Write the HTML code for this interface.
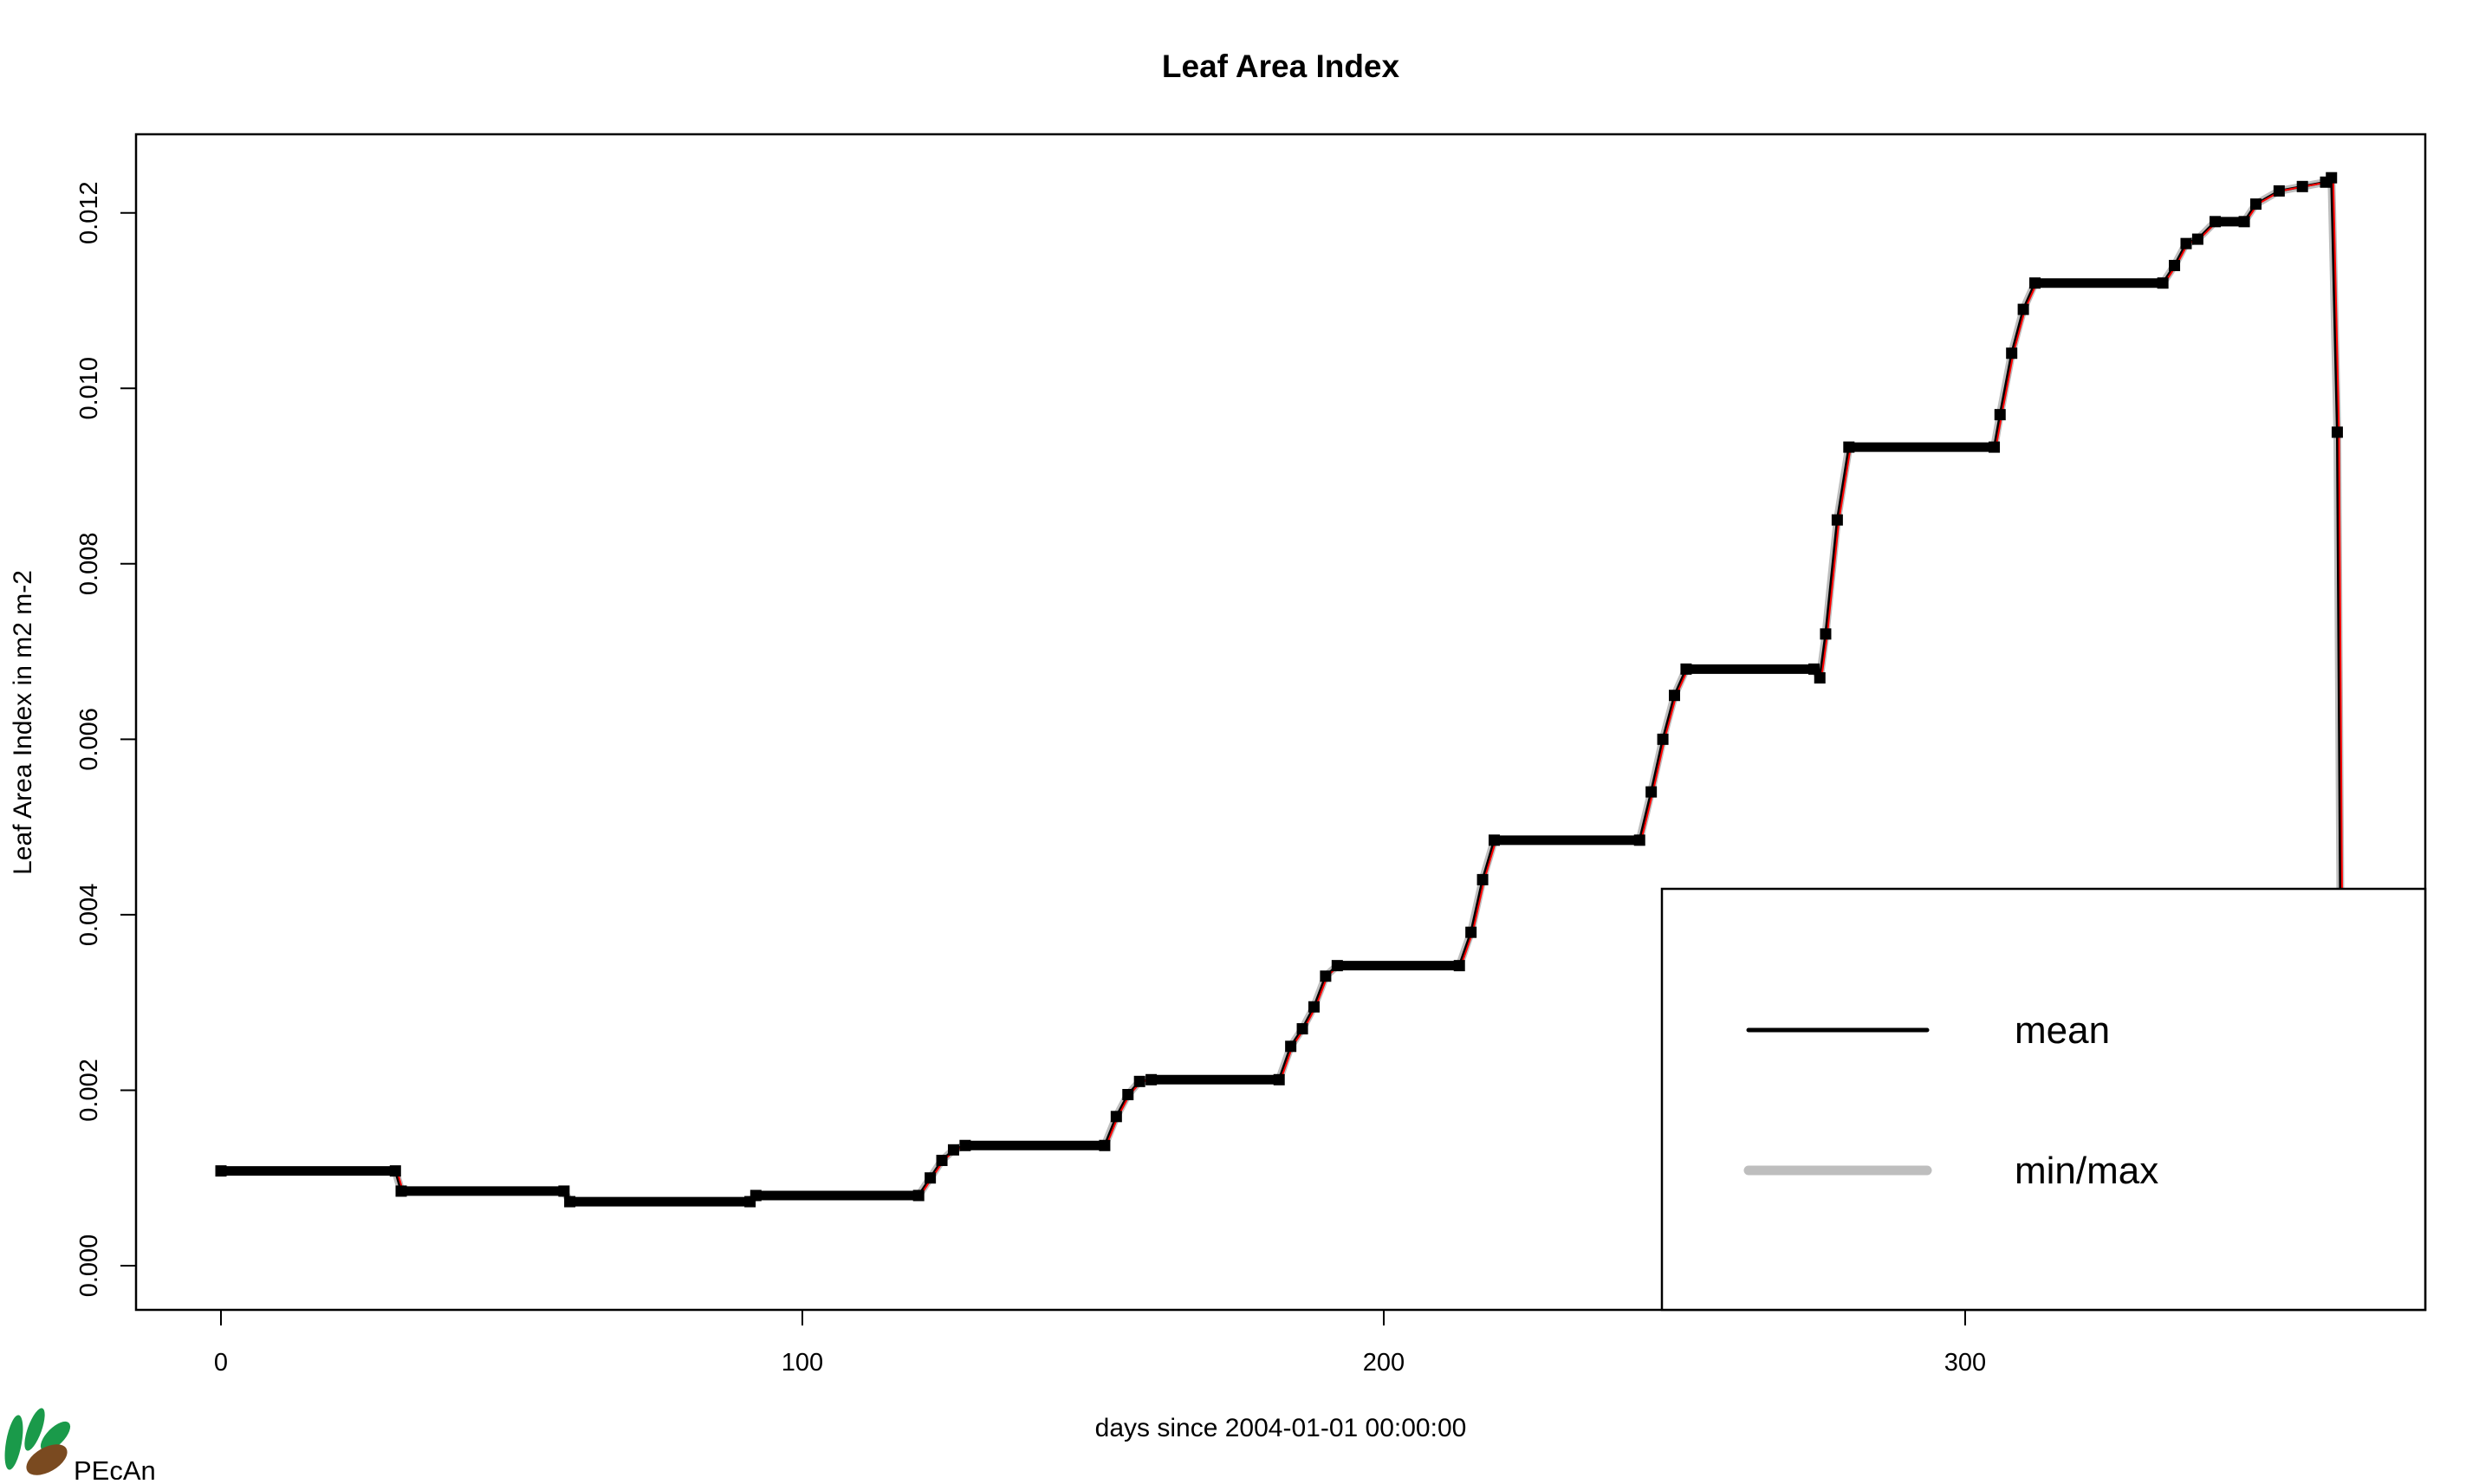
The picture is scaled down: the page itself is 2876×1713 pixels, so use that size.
<!DOCTYPE html>
<html><head><meta charset="utf-8"><style>
body{margin:0;background:#fff}
svg text{font-family:"Liberation Sans",Arial,sans-serif}
</style></head><body>
<svg id="chart" width="2876" height="1708" viewBox="0 0 2876 1708" xmlns="http://www.w3.org/2000/svg">
<rect width="2876" height="1708" fill="#fff"/>
<text x="1478" y="89" font-size="37" font-weight="bold" text-anchor="middle">Leaf Area Index</text>
<g id="marks"></g>
<g id="axes"></g>
<rect x="157" y="155" width="2642" height="1357" fill="none" stroke="#000" stroke-width="2.5"/>
<g>
<rect x="1918" y="1026" width="881" height="486" fill="#fff" stroke="#000" stroke-width="2.5"/>
<line x1="2018" y1="1189" x2="2224" y2="1189" stroke="#000" stroke-width="5" stroke-linecap="round"/>
<text x="2325" y="1204" font-size="44">mean</text>
<line x1="2018" y1="1351" x2="2224" y2="1351" stroke="#bebebe" stroke-width="11" stroke-linecap="round"/>
<text x="2325" y="1366" font-size="44">min/max</text>
</g>
<text x="1478" y="1658" font-size="30" text-anchor="middle">days since 2004-01-01 00:00:00</text>
<text transform="translate(36,834) rotate(-90)" font-size="30" text-anchor="middle">Leaf Area Index in m2 m-2</text>
<g>
<ellipse cx="16" cy="1665" rx="9" ry="32" fill="#1a9a4a" transform="rotate(10 16 1665)"/>
<ellipse cx="40" cy="1650" rx="8" ry="26" fill="#1a9a4a" transform="rotate(20 40 1650)"/>
<ellipse cx="64" cy="1658" rx="10" ry="22" fill="#1a9a4a" transform="rotate(45 64 1658)"/>
<ellipse cx="54" cy="1685" rx="14" ry="26" fill="#7a4a20" transform="rotate(60 54 1685)"/>
<text x="85" y="1708" font-size="31">PEcAn</text>
</g>
</svg>
<script>
const days = [0,30,31,59,60,91,92,120,122,124,126,128,152,154,156,158,160,182,184,186,188,190,192,213,215,217,219,244,246,248,250,252,274,275,276,278,280,305,306,308,310,312,334,336,338,340,343,348,350,354,358,362,363,364,365];
const lai = [0.00108,0.00108,0.00085,0.00085,0.00073,0.00073,0.00080,0.00080,0.00100,0.00120,0.00132,0.00137,0.00137,0.00170,0.00195,0.00210,0.00212,0.00212,0.00250,0.00270,0.00295,0.00330,0.00342,0.00342,0.00380,0.00440,0.00485,0.00485,0.00540,0.00600,0.00650,0.00680,0.00680,0.00670,0.00720,0.00850,0.00933,0.00933,0.00970,0.01040,0.01090,0.01120,0.01120,0.01140,0.01165,0.01170,0.01190,0.01190,0.01210,0.01225,0.01230,0.01235,0.01240,0.00950,-0.0005];
const xTicks = [0,100,200,300];
const yTicks = [0,0.002,0.004,0.006,0.008,0.010,0.012];
const yTickLabels = ["0.000","0.002","0.004","0.006","0.008","0.010","0.012"];

const NS = "http://www.w3.org/2000/svg";
function xs(d){return 255 + d*(2268-255)/300;}
function ys(v){return 1461 - v*(1461-245.7)/0.012;}
function mk(tag, attrs, parent){const e=document.createElementNS(NS,tag);for(const k in attrs)e.setAttribute(k,attrs[k]);parent.appendChild(e);return e;}

const marks=document.getElementById('marks');
const clip=mk('clipPath',{id:'pc'},marks);
mk('rect',{x:157,y:155,width:2642,height:1357},clip);
const g=mk('g',{'clip-path':'url(#pc)'},marks);

let pts=days.map((d,i)=>xs(d)+','+ys(lai[i])).join(' ');
const band=mk('polyline',{points:pts,fill:'none',stroke:'#bebebe','stroke-width':9,'stroke-linejoin':'round'},g);


const thin=mk('polyline',{points:pts,fill:'none',stroke:'#000','stroke-width':3},g);


let rpts=days.map((d,i)=>(xs(d)+2)+','+ys(lai[i])).join(' ');
const red=mk('polyline',{points:rpts,fill:'none',stroke:'#ff0000','stroke-width':2},g);


for(let i=0;i<days.length-1;i++){
  if(lai[i]===lai[i+1]){
    const s=mk('line',{x1:xs(days[i]),y1:ys(lai[i]),x2:xs(days[i+1]),y2:ys(lai[i+1]),stroke:'#000','stroke-width':11},g);
    
    
  }
}
days.forEach((d,i)=>{
  const r=mk('rect',{x:xs(d)-6.5,y:ys(lai[i])-6.5,width:13,height:13,fill:'#000'},g);
  
  
});

const axes=document.getElementById('axes');
xTicks.forEach(t=>{
  const l=mk('line',{x1:xs(t),y1:1512,x2:xs(t),y2:1530,stroke:'#000','stroke-width':2},axes);
  
  
  const tx=mk('text',{x:xs(t),y:1582,'font-size':29,'text-anchor':'middle'},axes);
  tx.textContent=String(t);
  
  
});
yTicks.forEach((t,i)=>{
  const l=mk('line',{x1:139,y1:ys(t),x2:157,y2:ys(t),stroke:'#000','stroke-width':2},axes);
  
  
  const tx=mk('text',{transform:'translate(112,'+ys(t)+') rotate(-90)','font-size':29,'text-anchor':'middle'},axes);
  tx.textContent=yTickLabels[i];
  
  
});
</script>
</body></html>
